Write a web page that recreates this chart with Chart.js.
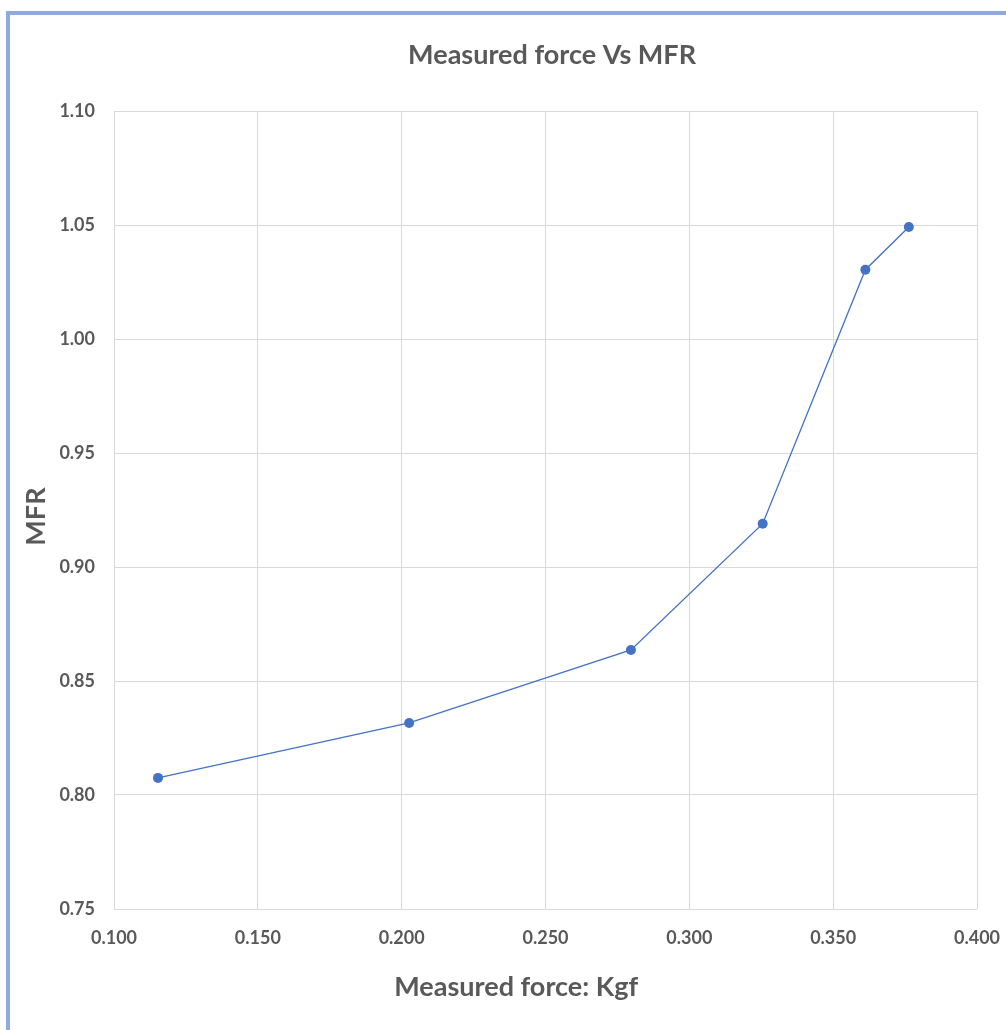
<!DOCTYPE html>
<html>
<head>
<meta charset="utf-8">
<title>Measured force Vs MFR</title>
<script src="https://cdn.jsdelivr.net/npm/chart.js@4/dist/chart.umd.min.js"></script>
<style>
  html, body { margin: 0; padding: 0; background: #ffffff; }
  canvas { display: block; }
</style>
</head>
<body>
<canvas id="chart" width="1006" height="1030"></canvas>
<script>
// Measured force (Kgf) and the matching MFR readings
const forceKgf = [0.1153, 0.2026, 0.2797, 0.3255, 0.3612, 0.3763];
const mfrValues = [0.8075, 0.8316, 0.8636, 0.9190, 1.0304, 1.0491];

// Axis ranges and tick steps
const xRange = [0.100, 0.400];
const xStep = 0.050;
const yRange = [0.75, 1.10];
const yStep = 0.05;

const chartTitle = 'Measured force Vs MFR';
const xTitle = 'Measured force: Kgf';
const yTitle = 'MFR';

const textColor = '#595959';
const gridColor = '#d9d9d9';
const seriesColor = '#4472c4';
const fontFamily = 'Lato, "Open Sans", sans-serif';

// non-breaking spaces used to nudge centred titles off the plot centre
const pad = n => '\u00a0'.repeat(n);

const points = forceKgf.map((x, i) => ({ x: x, y: mfrValues[i] }));

// Light blue frame along the top and left edges
const framePlugin = {
  id: 'frame',
  beforeDraw(chart) {
    const ctx = chart.ctx;
    ctx.save();
    ctx.fillStyle = '#ffffff';
    ctx.fillRect(0, 0, chart.width, chart.height);
    ctx.fillStyle = '#8faadc';
    ctx.fillRect(6, 11, chart.width - 6, 4);
    ctx.fillRect(6, 11, 4, chart.height - 11);
    ctx.restore();
  }
};

new Chart(document.getElementById('chart'), {
  type: 'scatter',
  data: {
    datasets: [{
      data: points,
      showLine: true,
      borderColor: seriesColor,
      borderWidth: 1.3,
      backgroundColor: seriesColor,
      pointRadius: 5,
      pointBorderWidth: 0,
      pointHoverRadius: 5
    }]
  },
  options: {
    responsive: false,
    animation: false,
    layout: { padding: { left: 0, right: 29, top: 0, bottom: 0 } },
    plugins: {
      legend: { display: false },
      tooltip: { enabled: false },
      title: {
        display: true,
        fullSize: false,
        text: pad(2) + chartTitle,
        color: textColor,
        font: { family: fontFamily, size: 27, weight: 'bold', lineHeight: 1.2 },
        padding: { top: 39, bottom: 39.6 }
      }
    },
    scales: {
      x: {
        type: 'linear',
        min: xRange[0],
        max: xRange[1],
        border: { display: false },
        grid: { color: gridColor, lineWidth: 1, drawTicks: false },
        ticks: {
          stepSize: xStep,
          color: textColor,
          padding: 18,
          maxRotation: 0,
          font: { family: fontFamily, size: 18, weight: 'bold' },
          callback: v => v.toFixed(3)
        },
        title: {
          display: true,
          text: xTitle + pad(9),
          color: textColor,
          font: { family: fontFamily, size: 27, weight: 'bold', lineHeight: 1.2 },
          padding: { top: 0, bottom: 27 }
        },
        afterFit(scale) {
          scale.height = 121;
          scale.paddingLeft = 0;
          scale.paddingRight = 0;
        }
      },
      y: {
        type: 'linear',
        min: yRange[0],
        max: yRange[1],
        border: { display: false },
        grid: { color: gridColor, lineWidth: 1, drawTicks: false },
        ticks: {
          stepSize: yStep,
          color: textColor,
          padding: 19,
          font: { family: fontFamily, size: 18, weight: 'bold' },
          callback: v => v.toFixed(2)
        },
        title: {
          display: true,
          text: yTitle + pad(2),
          color: textColor,
          font: { family: fontFamily, size: 27, weight: 'bold', lineHeight: 1.2 },
          padding: { top: 20, bottom: 0 }
        },
        afterFit(scale) {
          scale.width = 114;
          scale.paddingTop = 0;
          scale.paddingBottom = 0;
        }
      }
    }
  },
  plugins: [framePlugin]
});
</script>
</body>
</html>
